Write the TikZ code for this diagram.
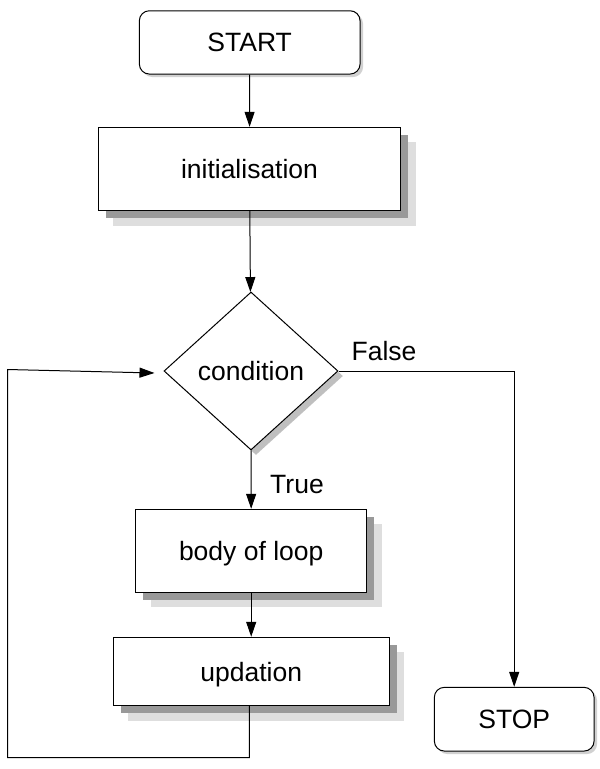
\documentclass[tikz,border=0pt]{standalone}
\usepackage{fontspec}
\setmainfont{Liberation Sans}
\usetikzlibrary{shapes.geometric,arrows.meta,shadows}
\begin{document}
\begin{tikzpicture}[x=1pt,y=-1pt,
 every node/.style={font=\fontsize{26.5}{30}\selectfont, text height=19pt, text depth=0pt, inner sep=0pt},
 proc/.style={rectangle, draw=black, line width=1pt, fill=white,
   drop shadow={shadow xshift=15pt, shadow yshift=-15pt, fill=black!13, opacity=1},
   drop shadow={shadow xshift=7.5pt, shadow yshift=-7.5pt, fill=black!40, opacity=1}},
 term/.style={rectangle, draw=black, line width=1pt, fill=white, rounded corners=10pt,
   drop shadow={shadow xshift=3pt, shadow yshift=-3pt, fill=black!18, opacity=1}},
 decis/.style={diamond, draw=black, line width=1pt, fill=white,
   drop shadow={shadow xshift=5pt, shadow yshift=-5pt, fill=black!25, opacity=1}},
 conn/.style={line width=1pt, -{Triangle[length=15pt,width=10pt]}}]
\useasboundingbox (0,0) rectangle (600,769);
\fill[white] (0,0) rectangle (600,769);

\node[term, minimum width=220.7pt, minimum height=63.3pt] (start) at (249.7,42.4) {START};
\node[proc, minimum width=302.4pt, minimum height=83.4pt] (init) at (249.5,169) {initialisation};
\node[decis, minimum width=174pt, minimum height=158pt] (cond) at (251,371) {condition};
\node[proc, minimum width=231pt, minimum height=83pt] (body) at (251.2,550.8) {body of loop};
\node[proc, minimum width=275.7pt, minimum height=68.4pt] (upd) at (251.2,671.5) {updation};
\node[term, minimum width=159.7pt, minimum height=63.7pt] (stop) at (514.2,719.2) {STOP};

\node (false) at (384,351) {False};
\node (true) at (297,484) {True};

\coordinate (lb) at (249.3,757.7);
\coordinate (ll) at (7.5,757.7);
\coordinate (lt) at (7.5,369.5);
\coordinate (la) at (154.5,373);

\draw[conn] (start) -- (init);
\draw[conn] (init) -- (cond);
\draw[conn] (cond) -- (body);
\draw[conn] (body) -- (upd);
\draw[conn] (cond.east) -| (stop.north);
\draw[conn] (upd.south -| lb) -- (lb) -- (ll) -- (lt) -- (la);
\end{tikzpicture}
\end{document}
